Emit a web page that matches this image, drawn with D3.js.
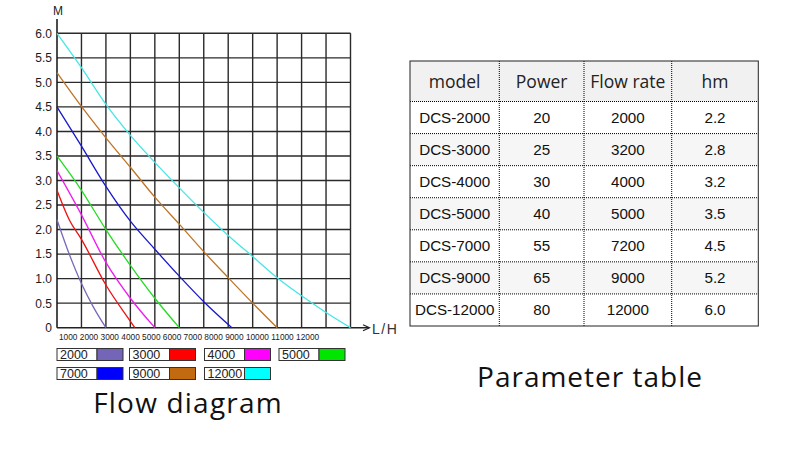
<!DOCTYPE html>
<html><head><meta charset="utf-8">
<script src="https://cdn.jsdelivr.net/npm/d3@7"></script>
<style>html,body{margin:0;padding:0;background:#fff;}svg{display:block;}</style>
</head><body>
<svg id="chart" width="800" height="462"></svg>
<script>
// ---------- DATA ----------
const categories = ["2000", "3000", "4000", "5000", "7000", "9000", "12000"];
const legendColors = ["#7565b8", "#ff0000", "#ff00ff", "#00e600", "#0000ff", "#c26a10", "#00ffff"];
const lineColors = ["#7868b8", "#ee1111", "#f01cf0", "#22dd22", "#1818cc", "#c07426", "#44e6e6"];

const flow2000 = [0, 500, 1000, 1500, 2000];
const head2000 = [2.2, 1.5, 0.9, 0.41, 0];
const flow3000 = [0, 500, 1000, 2000, 3000, 3180];
const head3000 = [2.8, 2.2, 1.8, 0.87, 0.13, 0];
const flow4000 = [0, 1000, 2000, 3000, 4000];
const head4000 = [3.2, 2.3, 1.33, 0.6, 0];
const flow5000 = [0, 1000, 2000, 3000, 4000, 5000];
const head5000 = [3.5, 2.8, 2.0, 1.27, 0.6, 0];
const flow7000 = [0, 1000, 2000, 3000, 4000, 5000, 6000, 7150];
const head7000 = [4.5, 3.7, 2.88, 2.17, 1.6, 1.05, 0.53, 0];
const flow9000 = [0, 1000, 2000, 3000, 4000, 5000, 6000, 7000, 8000, 9000];
const head9000 = [5.2, 4.51, 3.87, 3.27, 2.66, 2.11, 1.55, 1.02, 0.5, 0];
const flow12000 = [0, 1000, 2000, 3000, 4000, 5000, 6000, 7000, 8000, 9000, 10000, 11000, 12000];
const head12000 = [6.0, 5.3, 4.55, 3.92, 3.37, 2.85, 2.35, 1.88, 1.45, 1.02, 0.65, 0.31, 0];

const yTickValues = [0, 0.5, 1, 1.5, 2, 2.5, 3, 3.5, 4, 4.5, 5, 5.5, 6];
const yTickLabels = ["0", "0.5", "1.0", "1.5", "2.0", "2.5", "3.0", "3.5", "4.0", "4.5", "5.0", "5.5", "6.0"];
const xGridValues = [1000, 2000, 3000, 4000, 5000, 6000, 7000, 8000, 9000, 10000, 11000, 12000];
const xTickLabels = ["1000", "2000", "3000", "4000", "5000", "6000", "7000", "8000", "9000", "10000", "11000", "12000"];

const tableHeader = ["model", "Power", "Flow rate", "hm"];
const models = ["DCS-2000", "DCS-3000", "DCS-4000", "DCS-5000", "DCS-7000", "DCS-9000", "DCS-12000"];
const powers = ["20", "25", "30", "40", "55", "65", "80"];
const flowRates = ["2000", "3200", "4000", "5000", "7200", "9000", "12000"];
const hms = ["2.2", "2.8", "3.2", "3.5", "4.5", "5.2", "6.0"];

// ---------- LAYOUT ----------
const svg = d3.select("#chart");
const ARIAL = "'Liberation Sans', Arial, sans-serif";
const SANS = "'Open Sans', 'Noto Sans', sans-serif";

const x = d3.scaleLinear().domain([0, 12000]).range([57, 350.5]);
const y = d3.scaleLinear().domain([0, 6]).range([327.7, 33.3]);

const g = svg.append("g");
// grid
g.append("g").selectAll("line").data(xGridValues).join("line")
  .attr("x1", d => x(d)).attr("x2", d => x(d)).attr("y1", y(0)).attr("y2", y(6))
  .attr("stroke", "#2a2a2a").attr("stroke-width", 1.4);
g.append("g").selectAll("line").data(yTickValues.slice(1)).join("line")
  .attr("x1", x(0)).attr("x2", x(12000)).attr("y1", d => y(d)).attr("y2", d => y(d))
  .attr("stroke", "#2a2a2a").attr("stroke-width", 1.4);

// axes lines
g.append("line").attr("x1", x(0)).attr("x2", x(0)).attr("y1", 19).attr("y2", y(0))
  .attr("stroke", "#111").attr("stroke-width", 1.5);
g.append("line").attr("x1", x(0)).attr("x2", 369).attr("y1", y(0)).attr("y2", y(0))
  .attr("stroke", "#222").attr("stroke-width", 1.5);
g.append("path").attr("d", `M363,${y(0) - 3}L369.5,${y(0)}L363,${y(0) + 3}`)
  .attr("fill", "none").attr("stroke", "#222").attr("stroke-width", 1.2);

// y axis labels
const yAxis = d3.axisLeft(y).tickValues(yTickValues)
  .tickFormat((d, i) => yTickLabels[i]).tickSize(0).tickPadding(5);
const ya = g.append("g").attr("transform", `translate(${x(0)},0)`).call(yAxis);
ya.select(".domain").remove();
ya.selectAll("text").attr("font-family", ARIAL).attr("font-size", 12).attr("fill", "#1a1a1a");

g.append("text").attr("x", 58).attr("y", 15).attr("text-anchor", "middle")
  .attr("font-family", ARIAL).attr("font-size", 12).attr("fill", "#222").text("M");
g.append("text").attr("x", 372).attr("y", 333.5)
  .attr("font-family", ARIAL).attr("font-size", 14).attr("letter-spacing", 1.5).attr("fill", "#333").text("L/H");

// x tick labels flow as a spaced string
const xt = g.append("text").attr("x", 59).attr("y", 339.5)
  .attr("font-family", ARIAL).attr("font-size", 8.3).attr("fill", "#222")
  .style("white-space", "pre");
xt.selectAll("tspan").data(xTickLabels).join("tspan").text((d, i) => i < xTickLabels.length - 1 ? d + " " : d);

// curves
const seriesFlows = [flow2000, flow3000, flow4000, flow5000, flow7000, flow9000, flow12000];
const seriesHeads = [head2000, head3000, head4000, head5000, head7000, head9000, head12000];
const line = d3.line().x(d => x(d[0])).y(d => y(d[1])).curve(d3.curveMonotoneX);
g.append("g").selectAll("path").data(categories).join("path")
  .attr("d", (d, i) => line(seriesFlows[i].map((q, j) => [q, seriesHeads[i][j]])))
  .attr("fill", "none").attr("stroke", (d, i) => lineColors[i]).attr("stroke-width", 1.3);

// legend
const legCol = [57, 129.5, 204.5, 279];
const legRowY = [348.5, 367.5];
const leg = g.append("g").selectAll("g").data(categories).join("g")
  .attr("transform", (d, i) => {
    const r = i < 4 ? 0 : 1, c = i < 4 ? i : i - 4;
    return `translate(${legCol[c]},${legRowY[r]})`;
  });
leg.append("rect").attr("width", 40).attr("height", 12).attr("fill", "#fff")
  .attr("stroke", "#333").attr("stroke-width", 1);
leg.append("rect").attr("x", 40).attr("width", 26).attr("height", 12)
  .attr("fill", (d, i) => legendColors[i]).attr("stroke", "#333").attr("stroke-width", 1);
leg.append("text").attr("x", 3).attr("y", 10.5).attr("font-family", ARIAL)
  .attr("font-size", 12.5).attr("fill", "#222").text(d => d);

svg.append("text").attr("x", 188).attr("y", 413).attr("text-anchor", "middle")
  .attr("font-family", SANS).attr("font-size", 28).attr("letter-spacing", 1.2).attr("fill", "#111")
  .text("Flow diagram");
svg.append("text").attr("x", 590).attr("y", 387).attr("text-anchor", "middle")
  .attr("font-family", SANS).attr("font-size", 28).attr("letter-spacing", 1).attr("fill", "#111")
  .text("Parameter table");

// ---------- TABLE ----------
const colEdges = [410, 499.3, 584, 671.7, 758.3];
const headTop = 61, headBottom = 101.5, tableBottom = 326;
const rowH = (tableBottom - headBottom) / models.length;
const tg = svg.append("g");
tg.append("rect").attr("x", colEdges[0]).attr("y", headTop)
  .attr("width", colEdges[4] - colEdges[0]).attr("height", headBottom - headTop).attr("fill", "#f1f1f1");
tg.selectAll("rect.row").data(models).join("rect").attr("class", "row")
  .attr("x", colEdges[0]).attr("y", (d, i) => headBottom + i * rowH)
  .attr("width", colEdges[4] - colEdges[0]).attr("height", rowH)
  .attr("fill", (d, i) => i % 2 === 1 ? "#f6f6f6" : "none");

// dotted separators
for (let i = 0; i <= models.length - 1; i++) {
  tg.append("line").attr("x1", colEdges[0]).attr("x2", colEdges[4])
    .attr("y1", headBottom + i * rowH).attr("y2", headBottom + i * rowH)
    .attr("stroke", "#000").attr("stroke-width", 1).attr("stroke-dasharray", "1,1");
}
colEdges.slice(1, 4).forEach(cx => {
  tg.append("line").attr("x1", cx).attr("x2", cx).attr("y1", headTop).attr("y2", tableBottom)
    .attr("stroke", "#000").attr("stroke-width", 1).attr("stroke-dasharray", "1,1");
});
tg.append("rect").attr("x", colEdges[0]).attr("y", headTop)
  .attr("width", colEdges[4] - colEdges[0]).attr("height", tableBottom - headTop)
  .attr("fill", "none").attr("stroke", "#222").attr("stroke-width", 1);

const colCenter = i => (colEdges[i] + colEdges[i + 1]) / 2;
tg.selectAll("text.h").data(tableHeader).join("text").attr("class", "h")
  .attr("x", (d, i) => colCenter(i)).attr("y", 88).attr("text-anchor", "middle")
  .attr("font-family", SANS).attr("font-size", 17.5).attr("fill", "#222").text(d => d);
const cols = [models, powers, flowRates, hms];
cols.forEach((arr, ci) => {
  tg.selectAll("text.c" + ci).data(arr).join("text").attr("class", "c" + ci)
    .attr("x", colCenter(ci)).attr("y", (d, i) => headBottom + i * rowH + rowH / 2 + 5.3)
    .attr("text-anchor", "middle").attr("font-family", ARIAL).attr("font-size", 15.2)
    .attr("fill", "#111").text(d => d);
});
</script>
</body></html>
